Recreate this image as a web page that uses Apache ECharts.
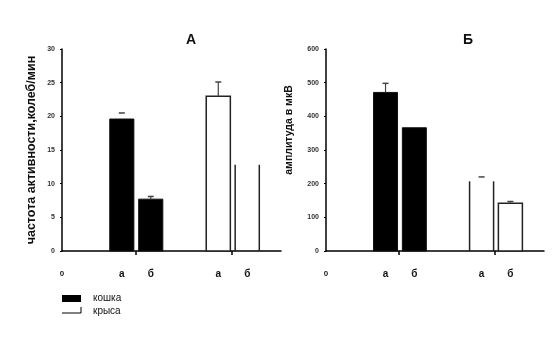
<!DOCTYPE html>
<html>
<head>
<meta charset="utf-8">
<script src="https://cdn.jsdelivr.net/npm/echarts@6/dist/echarts.min.js"></script>
<style>
  html, body { margin: 0; padding: 0; background: #fff; }
  #chart { width: 560px; height: 343px; }
</style>
</head>
<body>
<div id="chart"></div>
<script>
// Sub-group labels under each pair of bars
const subLabels = ['а', 'б'];
const seriesNames = ['кошка', 'крыса'];

// Panel A: activity frequency, oscillations per minute
const freqCat = [19.6, 7.7];
const freqCatErr = [0.9, 0.4];
const freqRat = [23.0, 12.8];
const freqRatErr = [2.1, null];

// Panel Б: amplitude, µV
const ampCat = [471, 366];
const ampCatErr = [27, null];
const ampRat = [207, 142];
const ampRatErr = [13, 5];

// Layout on the numeric x axis: pair centres and bar offsets within a pair
const pairCentres = [0.76, 1.76];
const barOffsets = [-0.14, 0.16];
const halfBar = 0.125;
const X_MAX = 2.27;

function barData(vals, errs, pair) {
  return vals.map((v, i) => [pairCentres[pair] + barOffsets[i], v, errs[i] == null ? 0 : errs[i], i]);
}

// Bars drawn as shapes; white bars may be drawn without a top edge,
// and some error markers are drawn as a cap only
function makeRenderer(fill, openTop, capOnly) {
  return function (params, api) {
    const x = api.value(0), v = api.value(1), e = api.value(2), idx = api.value(3);
    const tl = api.coord([x - halfBar, v]);
    const br = api.coord([x + halfBar, 0]);
    const children = [];
    if (fill === '#000') {
      children.push({ type: 'rect', shape: { x: tl[0], y: tl[1], width: br[0] - tl[0], height: br[1] - tl[1] },
        style: { fill: '#000', stroke: '#111', lineWidth: 1 } });
    } else if (openTop && openTop[idx]) {
      children.push({ type: 'line', shape: { x1: tl[0], y1: tl[1], x2: tl[0], y2: br[1] }, style: { stroke: '#222', lineWidth: 1.5 } });
      children.push({ type: 'line', shape: { x1: br[0], y1: tl[1], x2: br[0], y2: br[1] }, style: { stroke: '#222', lineWidth: 1.5 } });
    } else {
      children.push({ type: 'rect', shape: { x: tl[0], y: tl[1], width: br[0] - tl[0], height: br[1] - tl[1] },
        style: { fill: '#fff', stroke: '#222', lineWidth: 1.5 } });
    }
    if (e > 0) {
      const top = api.coord([x, v + e]);
      const cx = (tl[0] + br[0]) / 2;
      if (!(capOnly && capOnly[idx])) {
        children.push({ type: 'line', shape: { x1: cx, y1: tl[1], x2: cx, y2: top[1] }, style: { stroke: '#444', lineWidth: 1.2 } });
      }
      children.push({ type: 'line', shape: { x1: cx - 3, y1: top[1], x2: cx + 3, y2: top[1] }, style: { stroke: '#444', lineWidth: 1.5 } });
    }
    return { type: 'group', children: children };
  };
}

const labelPositions = [0];
const labelText = {};
labelText['0'] = '0';
pairCentres.forEach(c => barOffsets.forEach((o, i) => {
  const p = +(c + o).toFixed(3);
  labelPositions.push(p);
  labelText[String(p)] = subLabels[i];
}));

function xAxisFor(gridIndex) {
  return {
    type: 'value', gridIndex: gridIndex, min: 0, max: X_MAX,
    splitLine: { show: false },
    axisLine: { lineStyle: { color: '#000', width: 1.5 } },
    axisTick: { show: true, customValues: pairCentres, length: 4, lineStyle: { color: '#000', width: 1.5 } },
    axisLabel: {
      customValues: labelPositions, margin: 17,
      formatter: v => {
        const t = labelText[String(+(+v).toFixed(3))];
        return t === '0' ? '{z|0}' : '{c|' + t + '}';
      },
      rich: {
        z: { fontFamily: 'Liberation Sans', fontSize: 8, color: '#222', fontWeight: 'bold', lineHeight: 12, verticalAlign: 'middle' },
        c: { fontFamily: 'Liberation Sans', fontSize: 10, color: '#111', fontWeight: 'bold', lineHeight: 12, verticalAlign: 'middle' }
      }
    }
  };
}

function yAxisFor(gridIndex, max, interval, name, nameGap, nameSize, namePad) {
  return {
    type: 'value', gridIndex: gridIndex, min: 0, max: max, interval: interval,
    name: name, nameLocation: 'middle', nameGap: nameGap,
    nameTextStyle: { fontFamily: 'Liberation Sans', fontSize: nameSize, fontWeight: 'bold', color: '#111', padding: namePad },
    splitLine: { show: false },
    axisLine: { show: true, lineStyle: { color: '#000', width: 1.5 } },
    axisTick: { show: true, length: 2, lineStyle: { color: '#000' } },
    axisLabel: { fontFamily: 'Liberation Sans', fontSize: 7, fontWeight: 'bold', color: '#333', margin: 7 }
  };
}

const chart = echarts.init(document.getElementById('chart'), null, { renderer: 'canvas' });
chart.setOption({
  animation: false,
  backgroundColor: '#fff',
  title: [
    { text: 'А', left: 186, top: 28, textAlign: 'center',
      textStyle: { fontFamily: 'Liberation Sans', fontSize: 14, fontWeight: 'bold', color: '#111' } },
    { text: 'Б', left: 463, top: 28, textAlign: 'center',
      textStyle: { fontFamily: 'Liberation Sans', fontSize: 14, fontWeight: 'bold', color: '#111' } }
  ],
  grid: [
    { left: 62, top: 49, width: 219, height: 202 },
    { left: 326, top: 49, width: 218, height: 202 }
  ],
  xAxis: [xAxisFor(0), xAxisFor(1)],
  yAxis: [
    yAxisFor(0, 30, 5, 'частота активности,колеб/мин', 24, 12.5, 0),
    yAxisFor(1, 600, 100, 'амплитуда в мкВ', 31, 10.5, [0, 0, 0, 40])
  ],
  series: [
    { name: seriesNames[0], type: 'custom', xAxisIndex: 0, yAxisIndex: 0,
      renderItem: makeRenderer('#000', null, [true, false]), data: barData(freqCat, freqCatErr, 0), encode: { x: 0, y: 1 } },
    { name: seriesNames[1], type: 'custom', xAxisIndex: 0, yAxisIndex: 0,
      renderItem: makeRenderer('#fff', [false, true]), data: barData(freqRat, freqRatErr, 1), encode: { x: 0, y: 1 } },
    { name: seriesNames[0], type: 'custom', xAxisIndex: 1, yAxisIndex: 1,
      renderItem: makeRenderer('#000'), data: barData(ampCat, ampCatErr, 0), encode: { x: 0, y: 1 } },
    { name: seriesNames[1], type: 'custom', xAxisIndex: 1, yAxisIndex: 1,
      renderItem: makeRenderer('#fff', [true, false], [true, false]), data: barData(ampRat, ampRatErr, 1), encode: { x: 0, y: 1 } }
  ],
  graphic: [
    { type: 'rect', shape: { x: 62, y: 295, width: 19, height: 7 }, style: { fill: '#000' } },
    { type: 'polyline', shape: { points: [[62, 313], [81, 313], [81, 307]] }, style: { stroke: '#000', lineWidth: 1, fill: null } },
    { type: 'text', x: 93, y: 298, style: { text: seriesNames[0], fontFamily: 'Liberation Sans', fontSize: 10, fill: '#111', verticalAlign: 'middle' } },
    { type: 'text', x: 93, y: 311, style: { text: seriesNames[1], fontFamily: 'Liberation Sans', fontSize: 10, fill: '#111', verticalAlign: 'middle' } }
  ]
});
</script>
</body>
</html>
